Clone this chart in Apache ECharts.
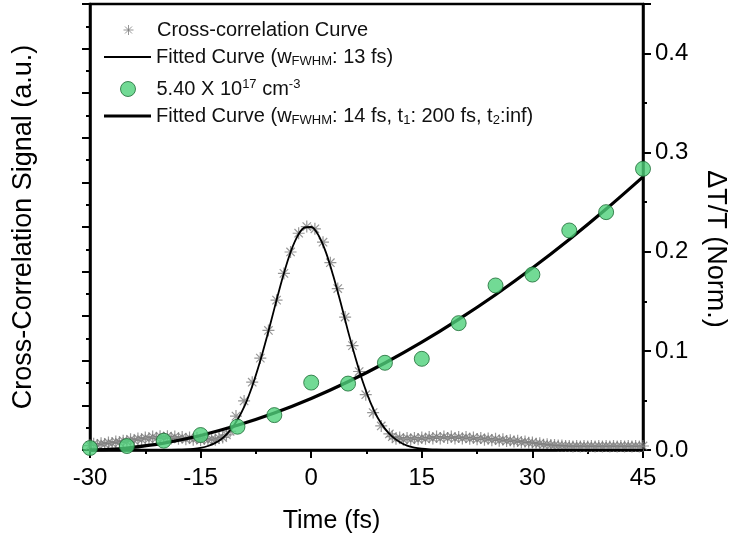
<!DOCTYPE html>
<html><head><meta charset="utf-8">
<script src="https://cdn.jsdelivr.net/npm/echarts@6/dist/echarts.min.js"></script>
<style>html,body{margin:0;padding:0;background:#fff}#c{width:737px;height:544px}</style>
</head><body><div id="c"></div>
<script>
// Cross-correlation measurement (left axis, a.u.)
const ccTime = [
  -30,-29.5,-29,-28.5,-28,-27.5,-27,-26.5,-26,-25.5,-25,-24.5,-24,-23.5,-23,-22.5,-22,-21.5,-21,-20.5,
  -20,-19.5,-19,-18.5,-18,-17.5,-17,-16.5,-16,-15.5,-15,-14.5,-14,-13.5,-13,-12.5,-12,-11.5,-11,
  -10.2,-9.1,-8.0,-6.9,-5.8,-4.7,-3.7,-2.8,-1.7,-0.6,0.5,1.6,2.6,3.6,4.6,5.6,6.5,7.4,8.4,9.5,10.6,
  11,11.5,12,12.5,13,13.5,14,14.5,15,15.5,16,16.5,17,17.5,18,18.5,19,19.5,20,20.5,21,21.5,22,22.5,
  23,23.5,24,24.5,25,25.5,26,26.5,27,27.5,28,28.5,29,29.5,30,30.5,31,31.5,32,32.5,33,33.5,34,34.5,
  35,35.5,36,36.5,37,37.5,38,38.5,39,39.5,40,40.5,41,41.5,42,42.5,43,43.5,44,44.5,45
];
const ccSignal = [
  0.10,0.14,0.11,0.15,0.13,0.17,0.15,0.19,0.17,0.21,0.19,0.24,0.21,0.26,0.23,0.28,0.25,0.30,0.26,0.31,
  0.27,0.31,0.26,0.30,0.25,0.29,0.24,0.28,0.23,0.27,0.22,0.26,0.22,0.25,0.23,0.27,0.28,0.34,0.42,
  0.76,1.10,1.52,2.06,2.68,3.36,3.96,4.44,4.86,5.01,4.96,4.66,4.20,3.62,2.98,2.34,1.76,1.24,0.84,0.54,0.36,
  0.30,0.25,0.28,0.23,0.27,0.23,0.27,0.24,0.28,0.25,0.29,0.26,0.30,0.26,0.30,0.27,0.30,0.26,0.29,0.26,0.29,0.25,0.28,0.24,
  0.27,0.23,0.26,0.22,0.25,0.21,0.24,0.20,0.22,0.19,0.21,0.17,0.19,0.16,0.17,0.14,0.15,0.12,0.13,0.11,0.11,0.10,0.10,0.09,
  0.09,0.08,0.09,0.08,0.09,0.08,0.09,0.08,0.09,0.08,0.09,0.08,0.09,0.08,0.09,0.08,0.09,0.08,0.09,0.08,0.09
];
// Fitted Gaussian curve (left axis)
const fit1Time = [-30,-25,-20,-18,-17,-16,-15,-14,-13,-12,-11,-10,-9,-8,-7,-6,-5,-4,-3,-2,-1,0,1,2,3,4,5,6,7,8,9,10,11,12,13,14,15,16,17,18,20,25,30,45];
const fit1Signal = [0,0,0.001,0.006,0.013,0.025,0.049,0.09,0.16,0.27,0.44,0.68,1.0,1.43,1.95,2.54,3.17,3.79,4.34,4.75,4.98,5.0,4.81,4.43,3.9,3.3,2.66,2.07,1.53,1.08,0.73,0.48,0.30,0.18,0.10,0.055,0.03,0.015,0.007,0.003,0.001,0,0,0];
// Transient transmission data (right axis)
const dataTime = [-30,-25,-20,-15,-10,-5,0,5,10,15,20,25,30,35,40,45];
const dataDT = [0.002,0.004,0.0094,0.0151,0.0235,0.0352,0.068,0.067,0.088,0.092,0.128,0.166,0.177,0.2215,0.240,0.2837];
// Fitted rise curve (right axis)
const fit2Time = [-30,-27.5,-25,-20,-15,-10,-5,0,5,10,15,20,25,30,35,40,45];
const fit2DT = [0,0.0006,0.002,0.007,0.0147,0.0249,0.0373,0.052,0.0688,0.0878,0.1088,0.1318,0.1567,0.1836,0.2124,0.2431,0.2756];
// Axis ticks
const xMin = -30, xMax = 45, xStep = 15;
const yLeftMin = 0, yLeftMax = 10, yLeftStep = 1;
const yRightMin = 0, yRightMax = 0.45, yRightStep = 0.1, yRightMinor = 0.05;

const names = [
  'Cross-correlation Curve',
  'Fitted Curve (wFWHM: 13 fs)',
  '5.40 X 1017 cm-3',
  'Fitted Curve (wFWHM: 14 fs, t1: 200 fs, t2:inf)'
];
const richNames = {};
richNames[names[0]] = '{a|Cross-correlation Curve}';
richNames[names[1]] = '{a|Fitted Curve (w}{sub|FWHM}{a|: 13 fs)}';
richNames[names[2]] = '{a|5.40 X 10}{sup|17}{a| cm}{sup|-3}';
richNames[names[3]] = '{a|Fitted Curve (w}{sub|FWHM}{a|: 14 fs, t}{sub|1}{a|: 200 fs, t}{sub|2}{a|:inf)}';

const FF = 'Liberation Sans, Arial, sans-serif';
const zip = (a, b) => a.map((v, i) => [v, b[i]]);

const legendText = {
  fontFamily: FF, fontSize: 20, color: '#111',
  rich: {
    a: {fontFamily: FF, fontSize: 20, lineHeight: 22, color: '#111'},
    sub: {fontFamily: FF, fontSize: 13, lineHeight: 12, verticalAlign: 'bottom', color: '#111'},
    sup: {fontFamily: FF, fontSize: 13, lineHeight: 12, verticalAlign: 'top', color: '#111'}
  }
};
function mkLegend(name, left, top, ih, extra) {
  return Object.assign({
    data: [name], left: left, top: top, orient: 'vertical', padding: 0,
    itemWidth: 47, itemHeight: ih, selectedMode: false,
    formatter: n => richNames[n], textStyle: legendText
  }, extra || {});
}

const chart = echarts.init(document.getElementById('c'), null, {renderer: 'canvas'});
chart.setOption({
  animation: false,
  backgroundColor: '#fff',
  grid: {left: 90, right: 94, top: 4, bottom: 94, show: true, borderColor: '#000', borderWidth: 2.5},
  legend: [
    mkLegend(names[0], 123, 20, 10, {itemStyle: {borderWidth: 1}}),
    mkLegend(names[1], 104, 47, 1.8, {icon: 'rect', itemStyle: {color: '#000', borderWidth: 0}}),
    mkLegend(names[2], 120, 78, 15, {itemStyle: {borderWidth: 1}}),
    mkLegend(names[3], 104, 106, 3, {icon: 'rect', itemStyle: {color: '#000', borderWidth: 0}})
  ],
  xAxis: [{
    type: 'value', min: xMin, max: xMax, interval: xStep, position: 'bottom',
    axisLine: {onZero: false, lineStyle: {color: '#000', width: 2.5}},
    axisTick: {length: 8, lineStyle: {color: '#000', width: 2}},
    minorTick: {show: true, splitNumber: 2, length: 4, lineStyle: {color: '#000', width: 2}},
    splitLine: {show: false}, minorSplitLine: {show: false},
    axisLabel: {fontFamily: FF, fontSize: 24, color: '#000', margin: 16},
    name: 'Time (fs)', nameLocation: 'middle', nameGap: 59,
    nameTextStyle: {fontFamily: FF, fontSize: 25, color: '#000', padding: [0, 70, 0, 0]}
  }],
  yAxis: [{
    type: 'value', position: 'left', min: yLeftMin, max: yLeftMax, interval: yLeftStep,
    axisLine: {show: true, onZero: false, lineStyle: {color: '#000', width: 2.5}},
    axisTick: {show: true, length: 8, lineStyle: {color: '#000', width: 2}},
    minorTick: {show: true, splitNumber: 2, length: 4, lineStyle: {color: '#000', width: 2}},
    splitLine: {show: false}, axisLabel: {show: false},
    name: 'Cross-Correlation Signal (a.u.)', nameLocation: 'middle', nameGap: 53,
    nameTextStyle: {fontFamily: FF, fontSize: 27, color: '#000'}
  }, {
    type: 'value', position: 'right', min: yRightMin, max: yRightMax, interval: yRightMinor,
    axisLine: {show: true, onZero: false, lineStyle: {color: '#000', width: 2.5}},
    axisTick: {show: true, length: 4, lineStyle: {color: '#000', width: 2}},
    splitLine: {show: false},
    axisLabel: {fontFamily: FF, fontSize: 24, color: '#000', margin: 12,
      formatter: v => Math.abs(v / yRightStep - Math.round(v / yRightStep)) < 1e-6 ? v.toFixed(1) : ''},
    name: 'ΔT/T (Norm.)', nameLocation: 'middle', nameGap: 59, nameRotate: -90,
    nameTextStyle: {fontFamily: FF, fontSize: 27, color: '#000', padding: [0, 0, 0, 44]}
  }, {
    type: 'value', position: 'right', min: yRightMin, max: yRightMax, interval: yRightStep,
    axisLine: {show: false, onZero: false},
    axisTick: {show: true, length: 8, lineStyle: {color: '#000', width: 2}},
    splitLine: {show: false}, axisLabel: {show: false}
  }],
  series: [{
    name: names[0], type: 'scatter', yAxisIndex: 0, z: 2,
    symbol: 'path://M5,0L5,10M0,5L10,5M1.5,1.5L8.5,8.5M1.5,8.5L8.5,1.5', symbolSize: 12,
    itemStyle: {color: 'rgba(0,0,0,0)', borderColor: '#7d7d7d', borderWidth: 1.2},
    data: zip(ccTime, ccSignal)
  }, {
    name: names[1], type: 'line', yAxisIndex: 0, z: 3, symbol: 'none', smooth: 0.3,
    lineStyle: {color: '#000', width: 1.8}, itemStyle: {color: '#000'},
    data: zip(fit1Time, fit1Signal)
  }, {
    name: names[2], type: 'scatter', yAxisIndex: 1, z: 5, symbol: 'circle', symbolSize: 15,
    itemStyle: {color: '#4fd17a', borderColor: '#1d6a35', borderWidth: 1},
    data: zip(dataTime, dataDT)
  }, {
    name: names[3], type: 'line', yAxisIndex: 1, z: 4, symbol: 'none', smooth: 0.3,
    lineStyle: {color: '#000', width: 3.2}, itemStyle: {color: '#000'},
    data: zip(fit2Time, fit2DT)
  }]
});
</script></body></html>
